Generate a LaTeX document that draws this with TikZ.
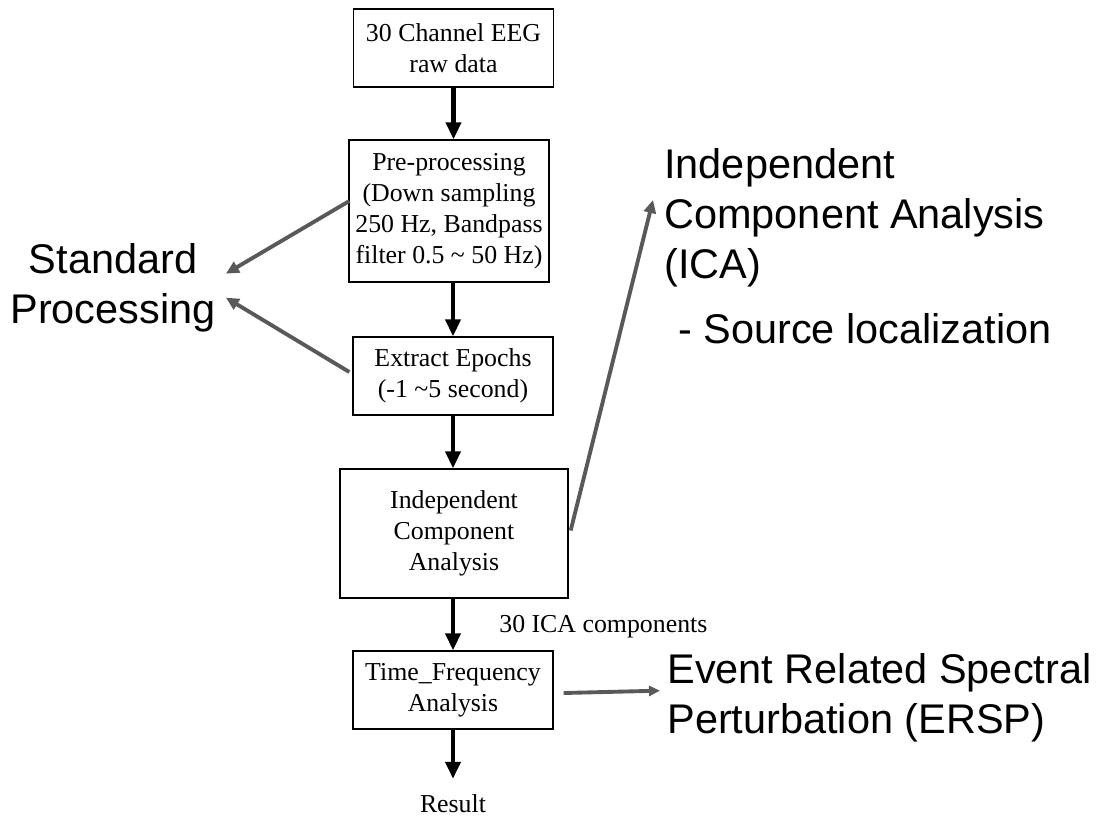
\documentclass[tikz,border=0pt]{standalone}
\usepackage{fontspec}
\setmainfont{Liberation Serif}
\newfontfamily\arialfont{Liberation Sans}
\usetikzlibrary{arrows.meta,calc}

\begin{document}
\begin{tikzpicture}[
  x=0.02cm, y=-0.02cm,
  box/.style={rectangle, draw, line width=0.8pt, minimum width=4cm,
              minimum height=1.56cm, inner sep=0pt, align=center,
              font=\fontsize{14.7}{17.6}\selectfont},
  tall_box/.style={box, minimum height=2.84cm},
  wide_box/.style={box, minimum width=4.56cm, minimum height=2.58cm},
  flow/.style={-{Triangle[width=0.3cm,length=0.34cm]}, line width=2.3pt},
  link/.style={-{Triangle[width=0.24cm,length=0.26cm]}, line width=2.2pt,
               color=black!65},
  big_text/.style={inner sep=0pt, font=\arialfont\fontsize{23.6}{28.45}\selectfont},
  small_text/.style={inner sep=0pt, font=\fontsize{14.7}{17.6}\selectfont}
]
  \useasboundingbox (0,0) rectangle (1099,816);

  \node[box]      (raw)     at (453.5, 48)  {30 Channel EEG\\raw data};
  \node[tall_box] (preproc) at (449, 211)
    {Pre-processing\\(Down sampling\\250 Hz, Bandpass\\filter 0.5 \textasciitilde{} 50 Hz)};
  \node[box]      (epochs)  at (453, 376)   {Extract Epochs\\(-1 \textasciitilde5 second)};
  \node[wide_box] (ica)     at (454, 533.5) {Independent\\Component\\Analysis};
  \node[box]      (tfa)     at (453, 690)   {Time\_Frequency\\Analysis};
  \node[small_text, anchor=base] (result) at (453, 812) {Result};
  \node[small_text, anchor=base west] (ncomp) at (499, 632) {30 ICA components};

  \node[big_text, align=center, anchor=north] (std) at (113, 243)
    {Standard\\Processing};
  \node[big_text, align=left, anchor=north west] (icalbl) at (664, 148)
    {Independent\\Component Analysis\\(ICA)};
  \node[big_text, anchor=base west] (srcloc) at (678, 343) {- Source localization};
  \node[big_text, align=left, anchor=north west] (ersp) at (667, 653)
    {Event Related Spectral\\Perturbation (ERSP)};

  \draw[flow] (raw.south) -- (raw.south |- preproc.north);
  \draw[flow] (epochs.north |- preproc.south) -- (epochs.north);
  \draw[flow] (epochs.south) -- (epochs.south |- ica.north);
  \draw[flow] (tfa.north |- ica.south) -- (tfa.north);
  \draw[flow, shorten >=0.3cm] (tfa.south) -- (tfa.south |- result.north);

  \draw[link] ($(preproc.west)+(1,-10)$) -- ($(std.east)+(10,-14)$);
  \draw[link] ($(epochs.west)+(-3,-4)$) -- ($(std.east)+(10,10)$);
  \draw[link] ($(ica.east)+(2,-3)$) -- ($(icalbl.north west)+(-11,52)$);
  \draw[link, -{Triangle[width=0.2cm,length=0.22cm]}]
    ($(tfa.east)+(10,3)$) -- ($(ersp.west)+(-7,-7)$);
\end{tikzpicture}
\end{document}
